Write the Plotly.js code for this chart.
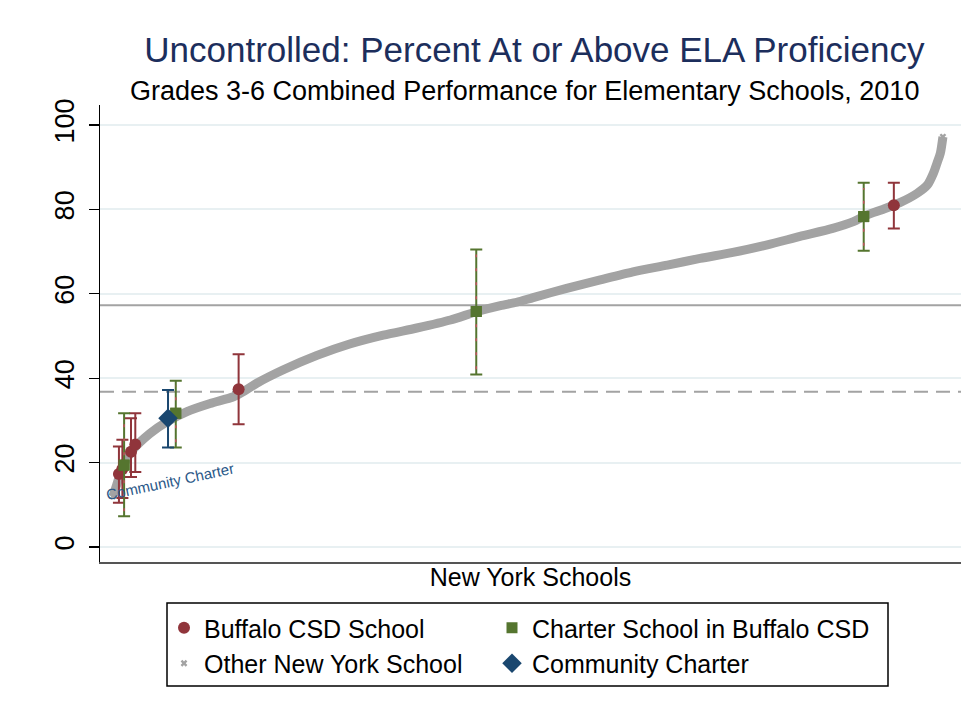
<!DOCTYPE html>
<html>
<head>
<meta charset="utf-8">
<script src="https://cdn.plot.ly/plotly-3.0.1.min.js"></script>
<style>html,body{margin:0;padding:0;background:#fff;}#chart{width:961px;height:712px;}</style>
</head>
<body>
<div id="chart"></div>
<script>
// ---- Data ----
// Other New York schools: sorted curve (rank position on a 0-1000 scale, percent proficient)
var otherRank = [15, 19, 23, 30, 38, 58, 78, 101, 128, 155, 168, 182, 213, 252, 290, 329, 368, 407, 438, 465, 484, 503, 542, 581, 619, 659, 697, 735, 775, 813, 851, 875, 891, 909, 929, 949, 961, 968, 972, 976, 979];
var otherPct  = [12.0, 14.5, 17.0, 20.5, 23.0, 26.9, 29.7, 32.1, 34.0, 35.6, 37.0, 38.8, 42.0, 45.4, 48.1, 50.2, 51.9, 53.8, 55.8, 57.2, 58.0, 59.1, 61.3, 63.3, 65.2, 66.8, 68.4, 69.8, 71.6, 73.6, 75.5, 77.1, 78.7, 80.0, 81.6, 83.8, 85.8, 88.6, 90.9, 93.3, 97.2];

// Buffalo CSD schools
var buffaloRank = [22, 26, 36, 41, 161, 922];
var buffaloPct  = [17.3, 18.5, 22.6, 24.3, 37.4, 81.0];
var buffaloLo   = [10.5, 11.6, 16.6, 17.8, 29.1, 75.5];
var buffaloHi   = [23.8, 25.4, 30.5, 31.7, 45.7, 86.3];

// Charter schools in Buffalo CSD
var charterRank = [28, 88, 437, 887];
var charterPct  = [19.4, 31.7, 55.8, 78.3];
var charterLo   = [7.3, 23.6, 40.9, 70.2];
var charterHi   = [31.7, 39.4, 70.5, 86.3];

// Community Charter
var communityRank = [79];
var communityPct  = [30.5];
var communityLo   = [23.6];
var communityHi   = [37.2];

// Reference lines
var stateLine = 57.3;    // solid
var buffaloLine = 36.8;  // dashed

var yTicks = [0, 20, 40, 60, 80, 100];
var yTickText = ['0', '20', '40', '60', '80', '100'];

// ---- Styling ----
var FONT = 'Liberation Sans, Arial, Helvetica, sans-serif';
var RED = '#90353b', GREEN = '#55752f', BLUE = '#1a476f', GRAY = '#a3a3a3';

function plus(hi, v) { return hi.map(function (h, i) { return +(h - v[i]).toFixed(2); }); }
function minus(lo, v) { return lo.map(function (l, i) { return +(v[i] - l).toFixed(2); }); }

// vertical segments for the red stripes on the charter error bars
var stripeX = [], stripeY = [];
charterRank.forEach(function (r, i) {
  stripeX.push(r, r, null);
  stripeY.push(charterLo[i] + 1.2, charterHi[i] - 1.2, null);
});

var traces = [
  { x: otherRank, y: otherPct, mode: 'lines', line: { color: GRAY, width: 9, shape: 'spline', smoothing: 0.7 },
    showlegend: false, hoverinfo: 'skip', type: 'scatter' },
  { x: otherRank, y: otherPct, mode: 'markers', name: 'Other New York School',
    marker: { symbol: 'x', size: 6, color: GRAY }, legend: 'legend', legendrank: 2, type: 'scatter' },
  { x: buffaloRank, y: buffaloPct, mode: 'markers', name: 'Buffalo CSD School',
    marker: { symbol: 'circle', size: 12, color: RED }, legend: 'legend', legendrank: 1, type: 'scatter',
    error_y: { type: 'data', symmetric: false, array: plus(buffaloHi, buffaloPct),
      arrayminus: minus(buffaloLo, buffaloPct), color: RED, thickness: 2, width: 6 } },
  { x: charterRank, y: charterPct, mode: 'markers', name: 'Charter School in Buffalo CSD',
    marker: { symbol: 'square', size: 11, color: GREEN }, legend: 'legend2', legendrank: 1, type: 'scatter',
    error_y: { type: 'data', symmetric: false, array: plus(charterHi, charterPct),
      arrayminus: minus(charterLo, charterPct), color: GREEN, thickness: 2, width: 6 } },
  { x: stripeX, y: stripeY, mode: 'lines', line: { color: '#c0505c', width: 1.5, dash: '3px,11px' },
    showlegend: false, hoverinfo: 'skip', type: 'scatter' },
  { x: charterRank, y: charterPct, mode: 'markers', marker: { symbol: 'square', size: 11, color: GREEN },
    showlegend: false, hoverinfo: 'skip', type: 'scatter' },
  { x: communityRank, y: communityPct, mode: 'markers', name: 'Community Charter',
    marker: { symbol: 'diamond', size: 15, color: BLUE }, legend: 'legend2', legendrank: 2, type: 'scatter',
    error_y: { type: 'data', symmetric: false, array: plus(communityHi, communityPct),
      arrayminus: minus(communityLo, communityPct), color: BLUE, thickness: 2, width: 6 } }
];

var legendCommon = { orientation: 'v', xanchor: 'left', y: (562 - 605) / 457, yanchor: 'top',
  font: { family: FONT, size: 25, color: '#000' }, borderwidth: 0, bgcolor: 'rgba(0,0,0,0)',
  itemclick: false, itemdoubleclick: false, tracegroupgap: 0 };

var layout = {
  width: 961, height: 712,
  margin: { l: 100, r: 0, t: 105, b: 150, pad: 0 },
  paper_bgcolor: '#ffffff', plot_bgcolor: '#ffffff',
  font: { family: FONT, color: '#000' },
  showlegend: true,
  title: { text: 'Uncontrolled: Percent At or Above ELA Proficiency',
    font: { family: FONT, size: 35, color: '#1c2e5c' },
    xref: 'container', yref: 'container', x: 0.556, xanchor: 'center', y: 1 - 50 / 712, yanchor: 'middle' },
  xaxis: { range: [0, 1000], showgrid: false, zeroline: false, showticklabels: false, ticks: '',
    showline: true, linecolor: '#555', linewidth: 1.5, fixedrange: true,
    title: { text: 'New York Schools', font: { family: FONT, size: 25, color: '#000' }, standoff: 6 } },
  yaxis: { range: [-3.55, 104.74], tickvals: yTicks, ticktext: yTickText, tickangle: -90,
    tickfont: { family: FONT, size: 27, color: '#000' }, ticks: 'outside', ticklen: 10, tickwidth: 1.3,
    tickcolor: '#000', showline: true, linecolor: '#000', linewidth: 1.3, zeroline: false,
    showgrid: true, gridcolor: '#e8f0f2', gridwidth: 2, ticklabelstandoff: 4, fixedrange: true },
  legend: Object.assign({}, legendCommon, { x: (164 - 100) / 861 }),
  legend2: Object.assign({}, legendCommon, { x: (492 - 100) / 861 }),
  shapes: [
    { type: 'line', xref: 'paper', x0: 0, x1: 1, yref: 'y', y0: stateLine, y1: stateLine,
      line: { color: GRAY, width: 2 }, layer: 'below' },
    { type: 'line', xref: 'paper', x0: 0, x1: 1, yref: 'y', y0: buffaloLine, y1: buffaloLine,
      line: { color: GRAY, width: 2, dash: '14px,8px' }, layer: 'below' },
    { type: 'rect', xref: 'paper', yref: 'paper', x0: (167 - 100) / 861, x1: (888 - 100) / 861,
      y0: (562 - 686) / 457, y1: (562 - 603) / 457, line: { color: '#000', width: 1.5 } }
  ],
  annotations: [
    { text: 'Grades 3-6 Combined Performance for Elementary Schools, 2010', xref: 'paper', yref: 'paper',
      x: (524 - 100) / 861, y: (562 - 91) / 457, xanchor: 'center', yanchor: 'middle', showarrow: false,
      font: { family: FONT, size: 27, color: '#000' } },
    { text: 'Community Charter', xref: 'x', yref: 'y', x: 81, y: 15.6, showarrow: false, textangle: -12,
      font: { family: FONT, size: 15, color: '#2a5888' } }
  ]
};

Plotly.newPlot('chart', traces, layout, { displayModeBar: false, staticPlot: true });
</script>
</body>
</html>
